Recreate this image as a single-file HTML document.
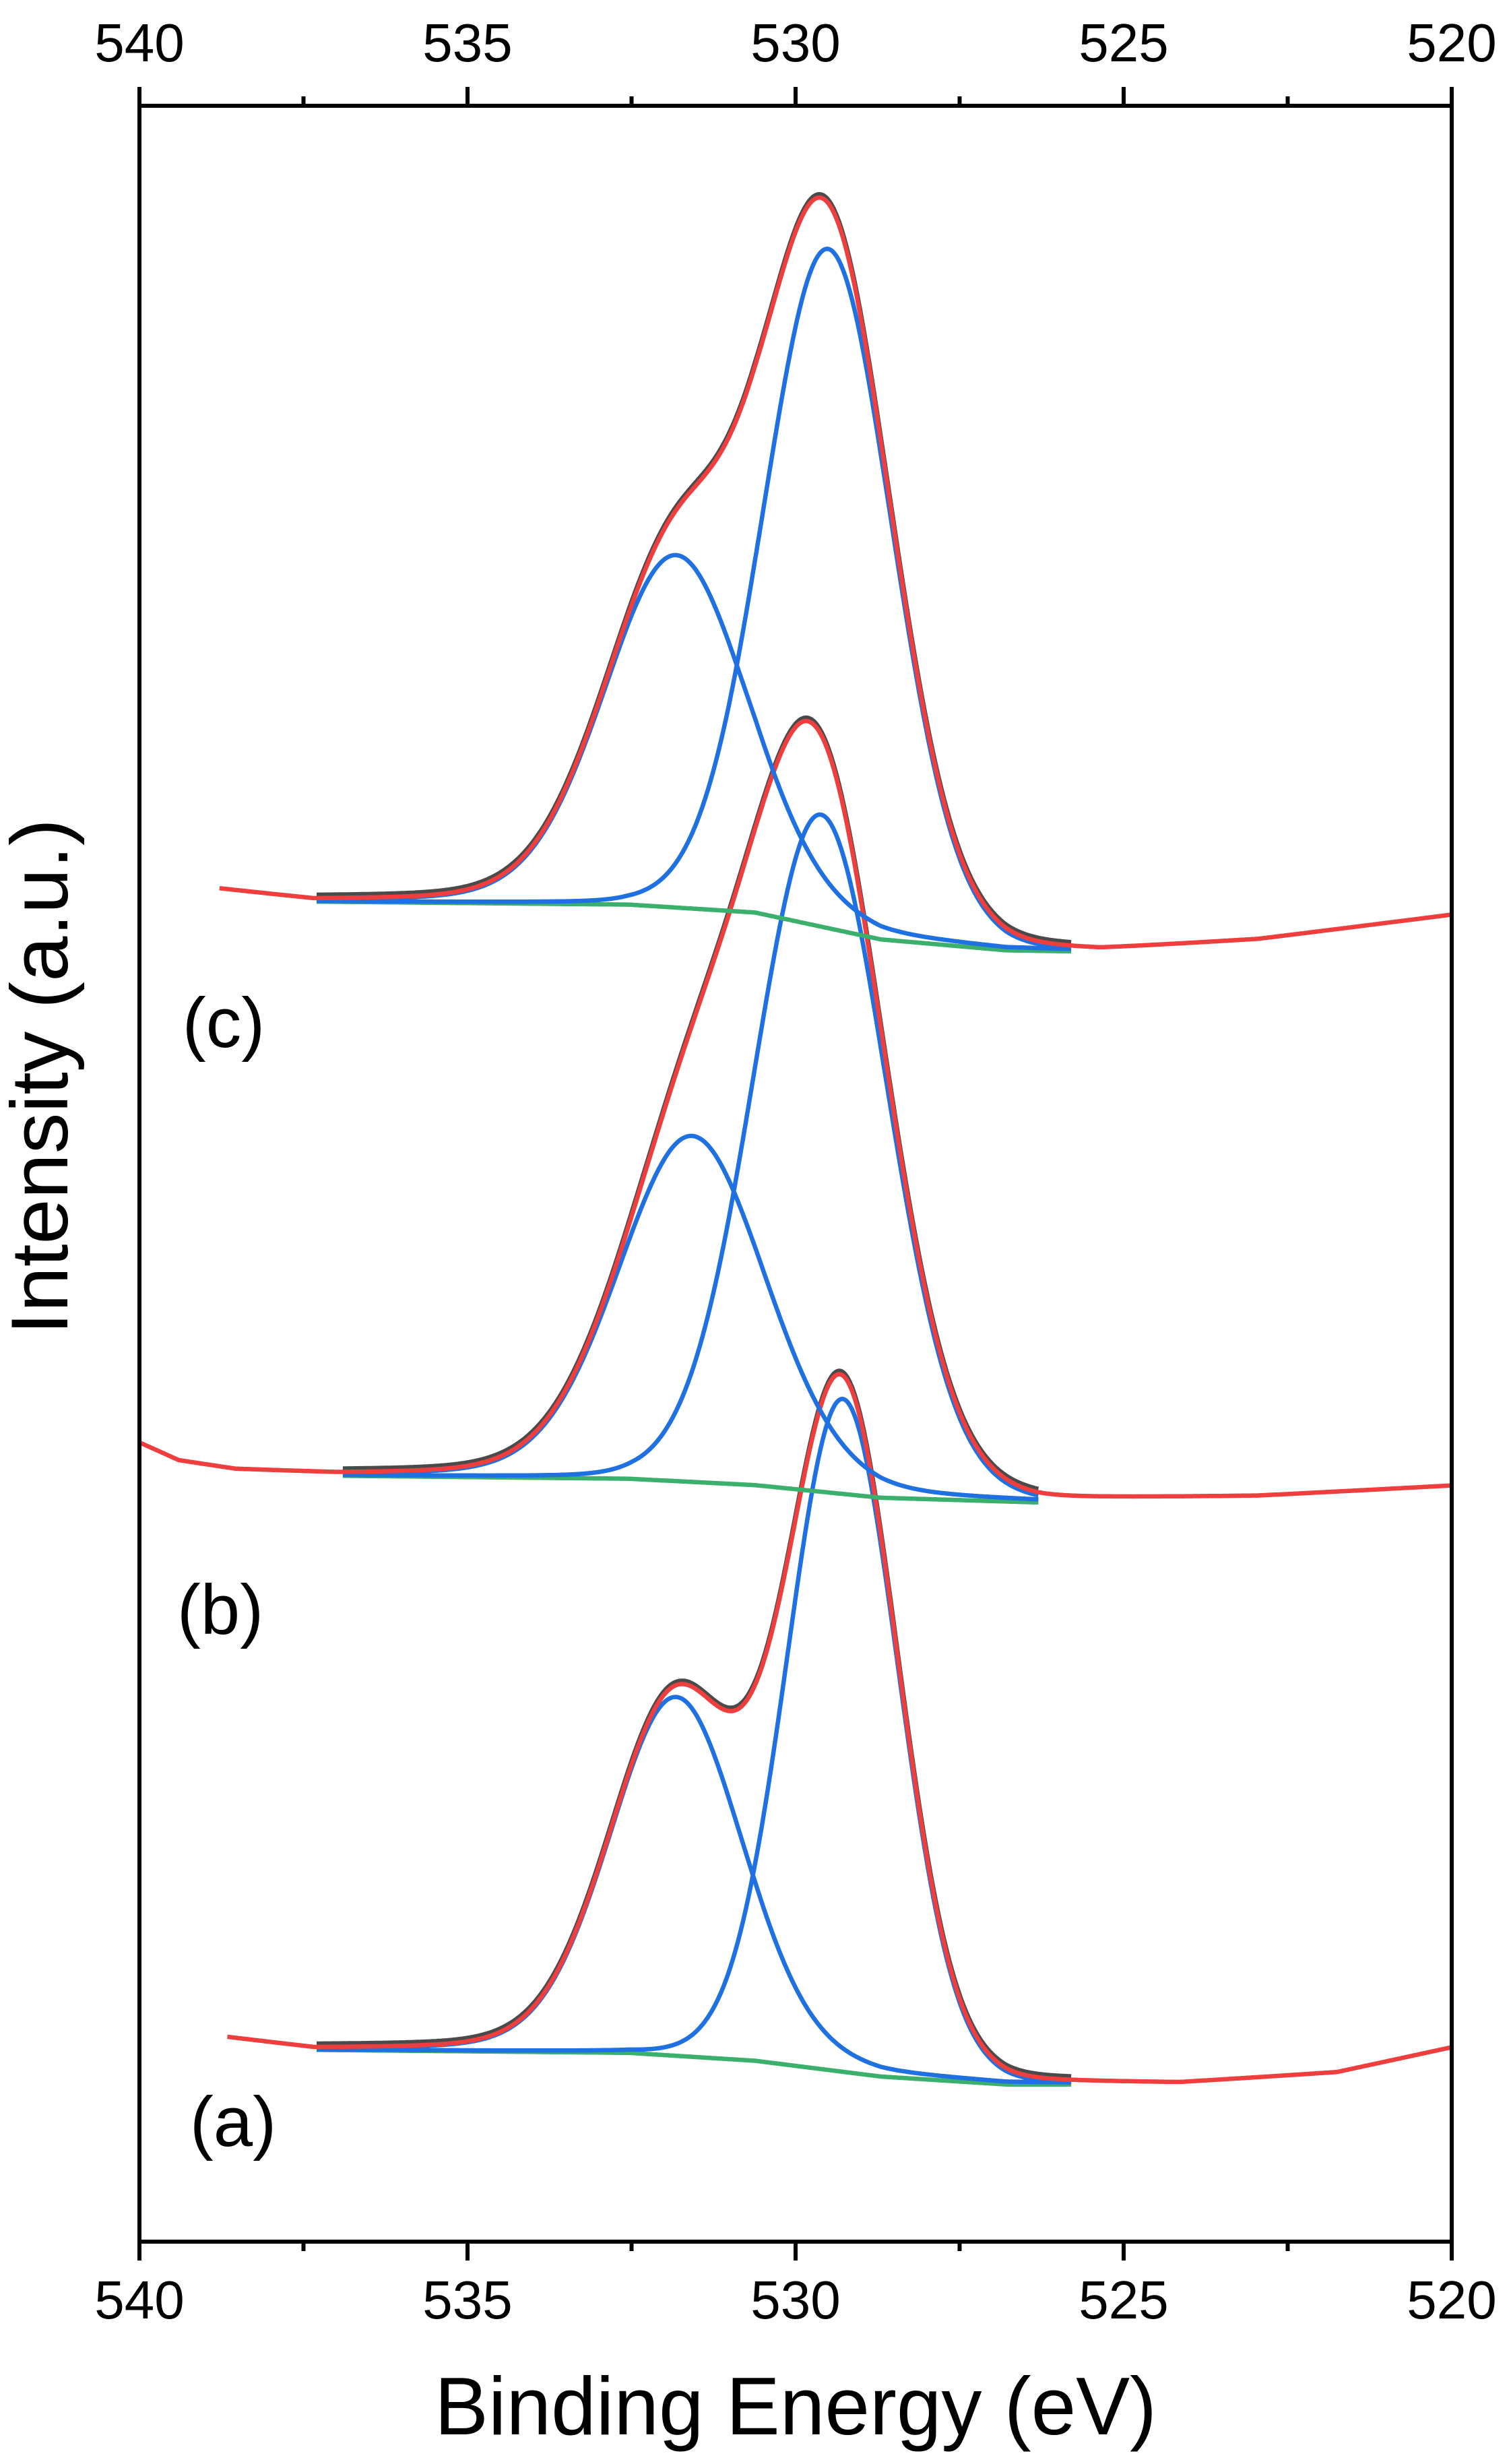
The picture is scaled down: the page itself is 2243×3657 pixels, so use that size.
<!DOCTYPE html>
<html><head><meta charset="utf-8"><style>
html,body{margin:0;padding:0;background:#fff}
svg{display:block}
text{font-family:"Liberation Sans",Arial,sans-serif;fill:#000}
</style></head><body>
<svg id="chart" width="2243" height="3657" viewBox="0 0 2243 3657" xmlns="http://www.w3.org/2000/svg">
<g id="plot"></g>
<g id="axes"></g>
<text x="1181" y="3613" font-size="122" text-anchor="middle" textLength="1072" lengthAdjust="spacingAndGlyphs">Binding Energy (eV)</text>
<text x="0" y="0" font-size="120" text-anchor="middle" textLength="766" lengthAdjust="spacingAndGlyphs" transform="translate(100,1598) rotate(-90)">Intensity (a.u.)</text>
<text x="332" y="1554" font-size="105" text-anchor="middle">(c)</text>
<text x="327" y="2425" font-size="105" text-anchor="middle">(b)</text>
<text x="346" y="3185" font-size="105" text-anchor="middle">(a)</text>
</svg>
<script>
// ---- data ----
const xTicksMajor = [540, 535, 530, 525, 520];
const xTicksMinor = [537.5, 532.5, 527.5, 522.5];
const xTickLabels = ["540", "535", "530", "525", "520"];
const spectrumNames = ["a", "b", "c"];
// background points (energy, intensity) per spectrum
const bgE_a = [538.66, 537.34, 532.54, 530.62, 528.70, 526.79, 524.15, 521.75, 520.0];
const bgI_a = [95.0, 89.8, 88.4, 84.7, 77.3, 73.6, 73.6, 78.8, 90.6];
const bgE_b = [540.0, 539.4, 538.54, 536.98, 532.54, 530.62, 528.70, 526.31, 522.95, 520.0];
const bgI_b = [373.4, 365.0, 360.8, 358.6, 357.2, 354.2, 348.3, 346.1, 348.3, 353.5];
const bgE_c = [538.78, 537.34, 532.54, 530.62, 528.70, 526.79, 525.35, 522.95, 520.0];
const bgI_c = [632.6, 627.4, 626.0, 622.3, 609.7, 604.6, 603.9, 609.0, 620.8];
// fitted peak components: centers (eV), heights, FWHM (eV), Lorentzian fraction
const peakCenter_a = [531.82, 529.28];
const peakHeight_a = [168, 315];
const peakFwhm_a = [2.4, 2.0];
const peakMix_a = [0.15, 0.05];
const peakCenter_b = [531.58, 529.62];
const peakHeight_b = [162, 317];
const peakFwhm_b = [2.65, 2.4];
const peakMix_b = [0.15, 0.05];
const peakCenter_c = [531.82, 529.50];
const peakHeight_c = [165, 318];
const peakFwhm_c = [2.6, 2.3];
const peakMix_c = [0.15, 0.05];
// fit ranges (eV)
const fitRange_a = [537.3, 525.8];
const fitRange_b = [536.9, 526.3];
const fitRange_c = [537.3, 525.8];

// ---- axes ----
const L = 207, R = 2155, T = 157, B = 3327;
const xS = e => L + (540 - e) / 20 * (R - L);
const yS = v => B - v / 1000 * (B - T);
const NS = "http://www.w3.org/2000/svg";
function mk(tag, attrs, parent) {
  const el = document.createElementNS(NS, tag);
  for (const k in attrs) el.setAttribute(k, attrs[k]);
  parent.appendChild(el);
  return el;
}
const axes = document.getElementById('axes');
const plot = document.getElementById('plot');

const frame = mk('rect', {x: L, y: T, width: R - L, height: B - T, fill: 'none', stroke: '#000', 'stroke-width': 6}, axes);



xTicksMajor.forEach((e, i) => {
  const x = xS(e);
  const tb = mk('line', {x1: x, x2: x, y1: B, y2: B + 28, stroke: '#000', 'stroke-width': 6}, axes);
  
  
  const tt = mk('line', {x1: x, x2: x, y1: T, y2: T - 28, stroke: '#000', 'stroke-width': 6}, axes);
  
  
  const lb = mk('text', {x: x, y: 3441, 'font-size': 80, 'text-anchor': 'middle'}, axes);
  lb.textContent = xTickLabels[i];
  
  
  const lt = mk('text', {x: x, y: 91, 'font-size': 80, 'text-anchor': 'middle'}, axes);
  lt.textContent = xTickLabels[i];
  
  
});
xTicksMinor.forEach(e => {
  const x = xS(e);
  const a = mk('line', {x1: x, x2: x, y1: B, y2: B + 14, stroke: '#000', 'stroke-width': 6}, axes);
  
  
  const b = mk('line', {x1: x, x2: x, y1: T, y2: T - 14, stroke: '#000', 'stroke-width': 6}, axes);
  
  
});

// ---- curves ----
function interp(E, I, e) {
  if (e >= E[0]) return I[0];
  for (let i = 1; i < E.length; i++) {
    if (e >= E[i]) { const t = (E[i - 1] - e) / (E[i - 1] - E[i]); return I[i - 1] + t * (I[i] - I[i - 1]); }
  }
  return I[I.length - 1];
}
function peak(c, h, w, m, e) {
  const s = w / 2.3548, g = Math.exp(-0.5 * ((e - c) / s) ** 2);
  const l = 1 / (1 + 4 * ((e - c) / w) ** 2);
  return h * (m * l + (1 - m) * g);
}
function pathFor(e0, e1, f) {
  let d = '';
  for (let e = e0; e >= e1 - 1e-9; e -= 0.02) d += (d ? 'L' : 'M') + xS(e).toFixed(1) + ',' + yS(f(e)).toFixed(1);
  return d;
}
const sets = {
  a: [bgE_a, bgI_a, peakCenter_a, peakHeight_a, peakFwhm_a, peakMix_a, fitRange_a],
  b: [bgE_b, bgI_b, peakCenter_b, peakHeight_b, peakFwhm_b, peakMix_b, fitRange_b],
  c: [bgE_c, bgI_c, peakCenter_c, peakHeight_c, peakFwhm_c, peakMix_c, fitRange_c]
};
spectrumNames.forEach(n => {
  const [E, I, C, H, W, M, FR] = sets[n];
  const bg = e => interp(E, I, e);
  const env = e => bg(e) + C.reduce((s, c, k) => s + peak(c, H[k], W[k], M[k], e), 0);
  const raw = mk('path', {d: pathFor(FR[0], FR[1], e => env(e) + 1.5), fill: 'none', stroke: '#4a4a4a', 'stroke-width': 7}, plot);
  
  
  const g = mk('path', {d: pathFor(FR[0], FR[1], bg), fill: 'none', stroke: '#3bb06c', 'stroke-width': 6.5}, plot);
  
  
  C.forEach((c, k) => {
    const p = mk('path', {d: pathFor(FR[0], FR[1], e => bg(e) + peak(c, H[k], W[k], M[k], e)), fill: 'none', stroke: '#1f70e0', 'stroke-width': 6.5}, plot);
    
    
  });
  const r = mk('path', {d: pathFor(E[0], 520, env), fill: 'none', stroke: '#ef3e3e', 'stroke-width': 6.5}, plot);
  
  
});
</script>
</body></html>
